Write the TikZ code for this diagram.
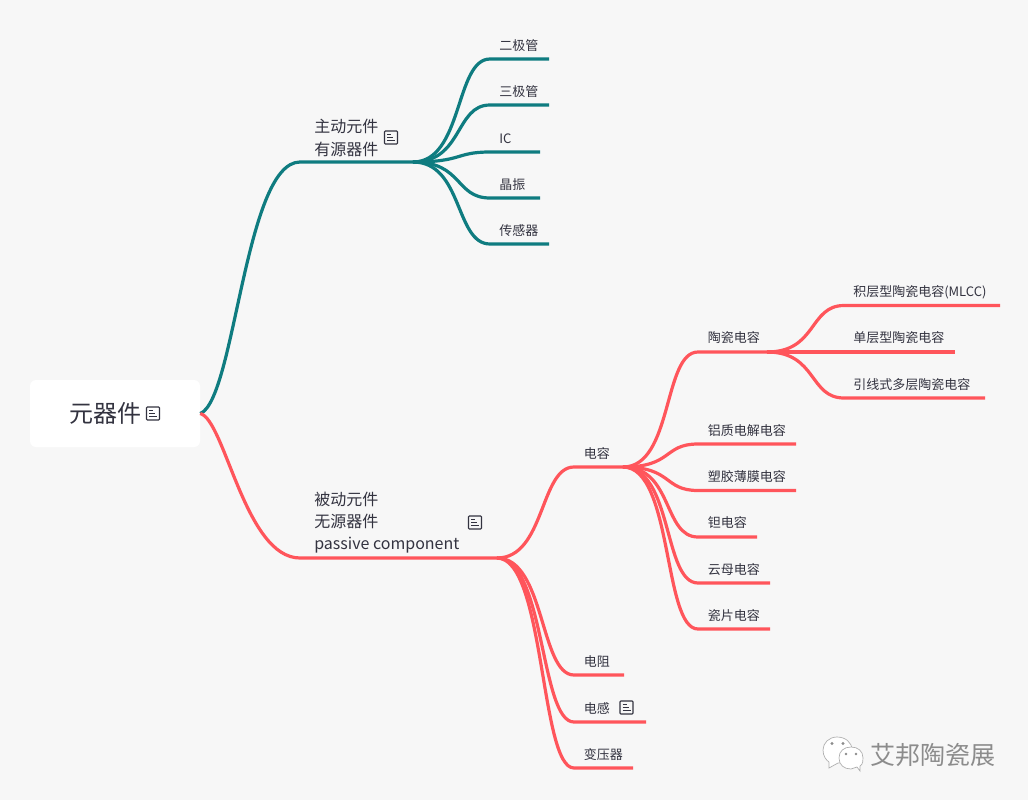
\documentclass[tikz,border=0pt]{standalone}
\usepackage{fontspec}
\setmainfont{Noto Sans CJK SC}
\usepackage{xcolor}
\usepackage{tikz}
\usetikzlibrary{positioning,calc}
\definecolor{cBack}{HTML}{F7F7F7}
\definecolor{cTeal}{HTML}{0F7C80}
\definecolor{cRed}{HTML}{FF555B}
\definecolor{cInk}{HTML}{333340}
\definecolor{cMark}{HTML}{8C8C8C}
\tikzset{
  rootbox/.style={rounded corners=4.5pt, fill=white, text=cInk, font=\fontsize{18}{22}\selectfont,
                  minimum width=127.5pt, minimum height=50.25pt, inner sep=0pt},
  topic/.style={anchor=west, text=cInk, inner sep=0pt, align=left, font=\fontsize{12}{16.7}\selectfont},
  leaf/.style={anchor=west, text=cInk, inner sep=0pt, font=\fontsize{9.75}{12}\selectfont},
  tealline/.style={draw=cTeal, line width=2.4pt},
  redline/.style={draw=cRed, line width=2.4pt},
  noteicon/.pic={
    \draw[cInk, line width=0.8pt, rounded corners=0.7pt] (-6.5,-6.5) rectangle (6.5,6.5);
    \draw[cInk, line width=0.8pt] (-4,-3) -- (0,-3) (-4,0) -- (2,0) (-4,3) -- (4,3);
  },
}

\begin{document}
\begin{tikzpicture}[x=0.75pt,y=-0.75pt]
  \useasboundingbox[fill=cBack] (0,0) rectangle (1028,800);
  \node[rootbox] (root) at (115,413.5) {元器件\hspace*{15pt}};
  \pic at (153,413.5) {noteicon};

  % first level
  \coordinate (hubA) at (413,162);
  \coordinate (hubB) at (497,558);
  \coordinate (hubC) at (623,467);
  \coordinate (hubD) at (767,352);
  \node[topic] (active) at (314,138) {主动元件\\有源器件};
  \node[topic] (passive) at (314,522.5) {被动元件\\无源器件\\passive component};
  \pic at (391,137.5) {noteicon};
  \pic at (475,522.5) {noteicon};
  \draw[tealline] (root.east) .. controls (235,400) and (245,162) .. (300,162) -- (hubA);
  \draw[redline] (root.east) .. controls (225,420) and (245,558) .. (300,558) -- (hubB);

  % active parts
  \foreach \n/\ty/\ly/\xe/\txt in {a1/46/59/549/二极管, a2/92/105/549/三极管, a3/139/152/540/IC,
      a4/185/198/540/晶振, a5/231/244/549/传感器}{
    \node[leaf] (\n) at (499,\ty) {\txt};
    \coordinate (\n s) at (490,\ly);
    \coordinate (\n e) at (\xe,\ly);
    \draw[tealline] (hubA) .. controls +(50,0) and +(-35,0) .. (\n s) -- (\n e);
  }

  % passive parts
  \node[leaf] (cap) at (583.5,454) {电容};
  \coordinate (caps) at (574,467);
  \draw[redline] (hubB) .. controls +(48,0) and +(-34,0) .. (caps) -- (hubC);
  \foreach \n/\ty/\ly/\xe/\txt in {b1/662/675/624/电阻, b2/708.5/722/646/电感, b3/755/768/633/变压器}{
    \node[leaf] (\n) at (583.5,\ty) {\txt};
    \coordinate (\n s) at (574,\ly);
    \coordinate (\n e) at (\xe,\ly);
    \draw[redline] (hubB) .. controls +(48,0) and +(-34,0) .. (\n s) -- (\n e);
  }
  \pic at (626.5,707.5) {noteicon};

  % capacitors
  \node[leaf] (cer) at (707.5,338) {陶瓷电容};
  \coordinate (cers) at (698,352);
  \draw[redline] (hubC) .. controls +(50,0) and +(-35,0) .. (cers) -- (hubD);
  \foreach \n/\ty/\ly/\xe/\txt in {c1/431/444/796/铝质电解电容, c2/477/490.5/796/塑胶薄膜电容, c3/523/537/757/钽电容,
      c4/570/583/770/云母电容, c5/616/629/770/瓷片电容}{
    \node[leaf] (\n) at (707.5,\ty) {\txt};
    \coordinate (\n s) at (698,\ly);
    \coordinate (\n e) at (\xe,\ly);
    \draw[redline] (hubC) .. controls +(50,0) and +(-35,0) .. (\n s) -- (\n e);
  }

  % ceramic capacitors
  \foreach \n/\ty/\ly/\xe/\txt in {d1/292/305.5/1000/积层型陶瓷电容(MLCC), d2/338/352/955/单层型陶瓷电容, d3/385/398/985/引线式多层陶瓷电容}{
    \node[leaf] (\n) at (853,\ty) {\txt};
    \coordinate (\n s) at (844,\ly);
    \coordinate (\n e) at (\xe,\ly);
    \draw[redline] (hubD) .. controls +(50,0) and +(-35,0) .. (\n s) -- (\n e);
  }

  % watermark
  \draw[cMark!70, line width=0.5pt, fill=white] (829,762) -- (829,768) -- (838,763) .. controls (850,763) and (852,757) .. (852,750)
    .. controls (852,742) and (845,737) .. (837,737) .. controls (829,737) and (823,743) .. (823,750) .. controls (823,756) and (826,760) .. (829,762) -- cycle;
  \draw[cMark!70, line width=0.5pt, fill=white] (857,767) -- (860,771) -- (860,766) .. controls (863,764) and (863,761) .. (863,758)
    .. controls (863,751) and (858,747) .. (851,747) .. controls (844,747) and (839,751) .. (839,758) .. controls (839,765) and (844,769) .. (851,769) -- (857,767) -- cycle;
  \fill[cMark] (832,743.5) circle (1.6) (843,743.5) circle (1.6) (846,754) circle (1.4) (856,754) circle (1.4);
  \node[anchor=west, inner sep=0pt, text=cMark, font=\fontsize{18.8}{22}\selectfont] (mark) at (870,755) {艾邦陶瓷展};
\end{tikzpicture}
\end{document}
